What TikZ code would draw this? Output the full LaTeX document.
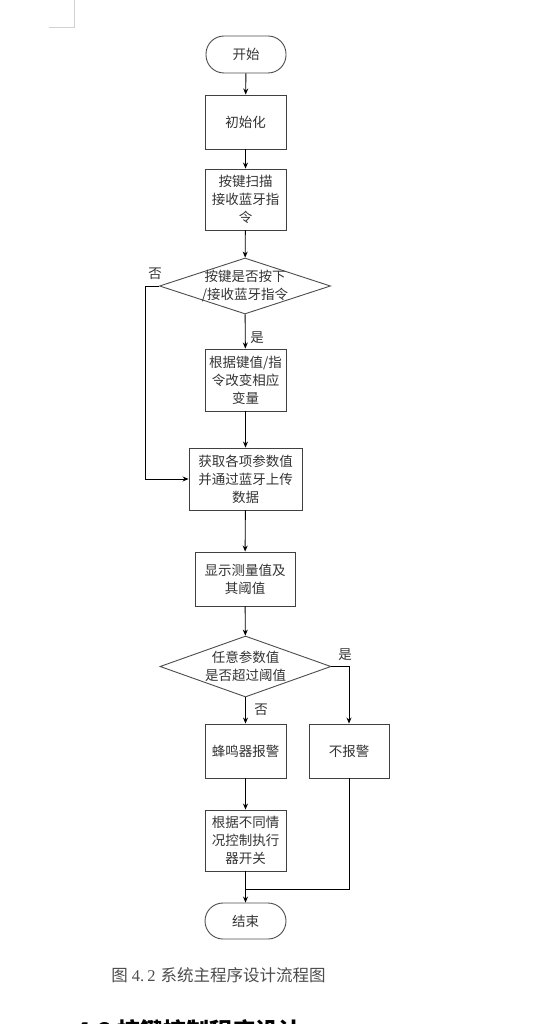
\documentclass[tikz,border=0pt]{standalone}
\usepackage{fontspec}
\setmainfont{Noto Sans CJK SC}
\newfontfamily\serifdig{Liberation Serif}
\usetikzlibrary{shapes.geometric,arrows.meta}
\begin{document}
\begin{tikzpicture}[x=1pt,y=-1pt,line width=0.9pt,
    font=\fontsize{13.5}{18}\selectfont,
    flow/.style={-{Stealth[length=6pt,width=5pt]}},
    proc/.style={draw=black!75,rectangle,align=center,inner sep=0pt,text=black!80},
    term/.style={draw=black!70,rectangle,rounded corners=18pt,align=center,text=black!80,
        minimum width=80pt,minimum height=37pt},
    decision/.style={draw=black!70,diamond,minimum width=171pt,minimum height=56pt,inner sep=0pt},
    tag/.style={text=black!80,inner sep=1pt}]
    \useasboundingbox (0,0) rectangle (541,1024);
    % page corner mark
    \draw[black!18,line width=0.8pt] (49,27)--(74,27)--(74,0);
    % boxes
    \node[term] (start) at (246,54.5) {开始};
    \node[proc,minimum width=81pt,minimum height=54pt] (init) at (245.5,122) {初始化};
    \node[proc,minimum width=81pt,minimum height=61pt] (scan) at (245.5,199.5) {按键扫描\\接收蓝牙指\\令};
    \node[decision] (d1) at (245,286) {};
    \node[tag,align=center] (d1t) at (d1) {按键是否按下\\/接收蓝牙指令};
    \node[proc,minimum width=81pt,minimum height=62pt] (chg) at (245.5,380) {根据键值/指\\令改变相应\\变量};
    \node[proc,minimum width=113pt,minimum height=62pt] (get) at (245.5,479) {获取各项参数值\\并通过蓝牙上传\\数据};
    \node[proc,minimum width=100pt,minimum height=54pt] (disp) at (245,579) {显示测量值及\\其阈值};
    \node[decision,minimum height=61pt] (d2) at (245.5,666.5) {};
    \node[tag,align=center] (d2t) at (d2) {任意参数值\\是否超过阈值};
    \node[proc,minimum width=81pt,minimum height=54pt] (buzz) at (245.5,751) {蜂鸣器报警};
    \node[proc,minimum width=80pt,minimum height=54pt] (noal) at (349,751) {不报警};
    \node[proc,minimum width=81pt,minimum height=61pt] (ctrl) at (245.5,840.5) {根据不同情\\况控制执行\\器开关};
    \node[term,minimum width=81pt,minimum height=36pt] (stop) at (245.5,921) {结束};
    % connectors
    \coordinate (lft) at (145,286);
    \coordinate (join) at (245.5,889);
    \draw[flow] (start)--(init);
    \draw[flow] (init)--(scan);
    \draw[flow] (scan)--(d1);
    \draw[flow] (d1)--(chg);
    \draw[flow] (chg)--(get);
    \draw[flow] (d1.west)--(lft)|-(get.west);
    \draw[flow] (get)--(disp);
    \draw[flow] (disp)--(d2);
    \draw[flow] (d2)--(buzz);
    \draw[flow] (d2.east)-|(noal.north);
    \draw[flow] (buzz)--(ctrl);
    \draw[flow] (ctrl)--(stop);
    \draw (noal.south)|-(join);
    % branch labels
    \node[tag] (no1) at (155,274) {否};
    \node[tag] (yes1) at (257,338) {是};
    \node[tag] (yes2) at (345,655) {是};
    \node[tag] (no2) at (261,710) {否};
    % caption and next heading
    \node[anchor=west,inner sep=0pt,text=black!70,font=\fontsize{16.5}{18}\selectfont] (cap) at (111,975)
        {图\hspace{4pt}{\serifdig 4.\hspace{3pt}2}\hspace{5pt}系统主程序设计流程图};
    \node[anchor=north west,inner sep=0pt,font=\fontsize{23}{24}\selectfont\bfseries] (head) at (76,1019)
        {4.3 按键控制程序设计};
\end{tikzpicture}
\end{document}
